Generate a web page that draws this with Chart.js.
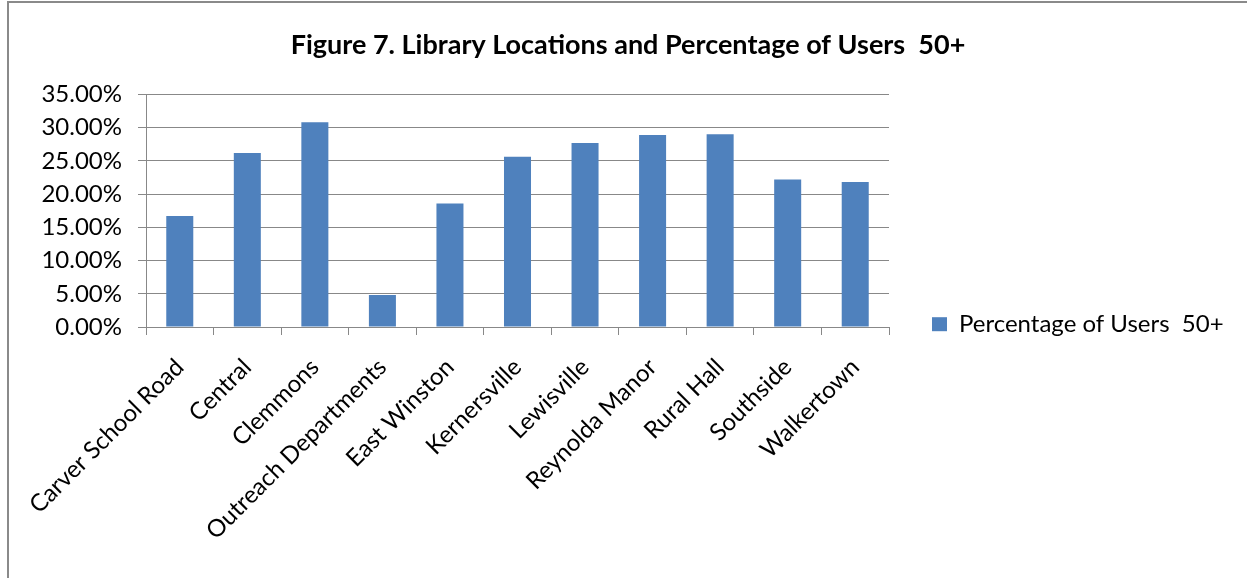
<!DOCTYPE html>
<html>
<head>
<meta charset="utf-8">
<script src="https://cdn.jsdelivr.net/npm/chart.js@4.4.0/dist/chart.umd.min.js"></script>
<style>
    body { margin: 0; background: #fff; }
    #wrap { position: relative; width: 1247px; height: 578px; }
    #frame { position: absolute; left: 7px; top: 1px; width: 1260px; height: 600px;
             border-left: 2px solid #8a8a8a; border-top: 2px solid #8a8a8a; pointer-events: none; }
</style>
</head>
<body>
<div id="wrap">
    <canvas id="users_chart" width="1247" height="578"></canvas>
    <div id="frame"></div>
</div>
<script>
// library locations
var locations = [
    'Carver School Road',
    'Central',
    'Clemmons',
    'Outreach Departments',
    'East Winston',
    'Kernersville',
    'Lewisville',
    'Reynolda Manor',
    'Rural Hall',
    'Southside',
    'Walkertown'
];
// percent of users 50+
var users50 = [16.7, 26.2, 30.8, 4.8, 18.6, 25.6, 27.7, 28.9, 29.0, 22.2, 21.8];
var yTicks = [0, 5, 10, 15, 20, 25, 30, 35];

Chart.defaults.font.family = 'Lato, "Liberation Sans", sans-serif';
Chart.defaults.color = '#000';

// legend takes a fixed width so the plot ends where the excel one does
var legendWidth = {
    id: 'legendWidth',
    beforeLayout: function (chart) {
        var legend = chart.legend;
        if (legend && !legend._wrapped) {
            var fit = legend.fit;
            legend.fit = function () {
                fit.call(this);
                this.width = 358;
            };
            legend._wrapped = true;
        }
    }
};

var ctx = document.getElementById("users_chart").getContext("2d");
var usersChart = new Chart(ctx, {
    type: 'bar',
    data: {
        labels: locations,
        datasets: [{
            label: 'Percentage of Users  50+',
            backgroundColor: '#4F81BD',
            borderWidth: 0,
            barPercentage: 0.4,
            categoryPercentage: 1,
            data: users50
        }]
    },
    plugins: [legendWidth],
    options: {
        responsive: false,
        animation: false,
        layout: { padding: { left: 9, right: 0, top: 0, bottom: 0 } },
        plugins: {
            title: {
                display: true,
                text: 'Figure 7. Library Locations and Percentage of Users  50+',
                font: { size: 27, weight: 'bold' },
                padding: { top: 29, bottom: 33 }
            },
            legend: {
                position: 'right',
                // empty title only pushes the legend item down
                title: { display: true, text: '', font: { size: 12 }, padding: 28 },
                labels: {
                    boxWidth: 15,
                    boxHeight: 14,
                    font: { size: 24 },
                    padding: 43
                }
            },
            tooltip: { enabled: false }
        },
        scales: {
            y: {
                min: 0,
                max: 35,
                afterBuildTicks: function (scale) {
                    scale.ticks = yTicks.map(function (v) { return { value: v }; });
                },
                afterFit: function (scale) { scale.width = 137; },
                ticks: {
                    font: { size: 24 },
                    padding: 16,
                    callback: function (v) { return v.toFixed(2) + '%'; }
                },
                grid: { color: '#888', lineWidth: 1, tickLength: 8 },
                border: { color: '#888', width: 1 }
            },
            x: {
                afterFit: function (scale) { scale.height = 251; },
                ticks: {
                    font: { size: 24 },
                    maxRotation: 45,
                    minRotation: 45,
                    autoSkip: false,
                    padding: 18
                },
                grid: { offset: true, drawOnChartArea: false, color: '#888', tickLength: 8 },
                border: { color: '#888', width: 1 }
            }
        }
    }
});
</script>
</body>
</html>
